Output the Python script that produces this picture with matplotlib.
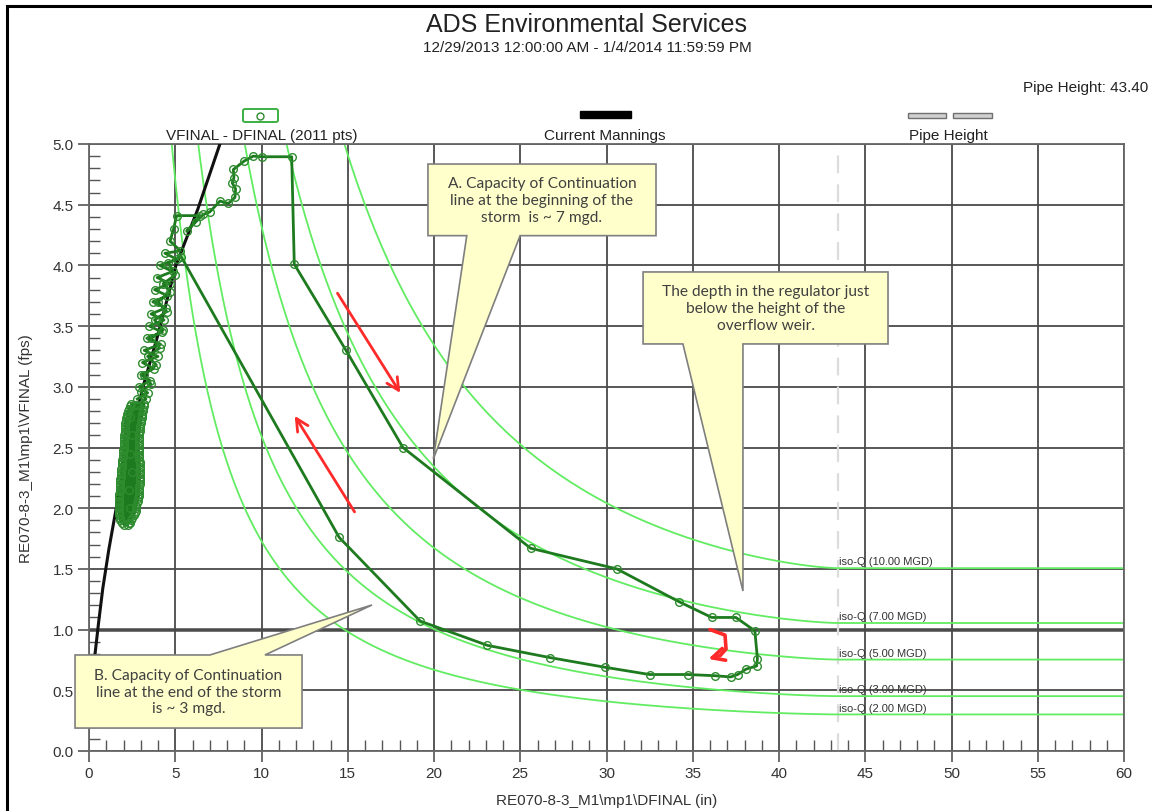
import numpy as np
import matplotlib
matplotlib.use("Agg")
import matplotlib.pyplot as plt
from matplotlib.patches import Polygon, Rectangle, FancyBboxPatch
from matplotlib.ticker import FormatStrFormatter, MultipleLocator

plt.rcParams['font.family'] = ['Liberation Sans', 'DejaVu Sans']

TITLE = "ADS Environmental Services"
SUBTITLE = "12/29/2013 12:00:00 AM - 1/4/2014 11:59:59 PM"
PIPE_HEIGHT = 43.40
X_LABEL = "RE070-8-3_M1\\mp1\\DFINAL (in)"
Y_LABEL = "RE070-8-3_M1\\mp1\\VFINAL (fps)"
SERIES_LABEL = "VFINAL - DFINAL (2011 pts)"
MANNING_LABEL = "Current Mannings"
PIPE_LABEL = "Pipe Height"

# Dry-weather readings (depth in, velocity fps)
dry_depth = [2.05, 2.45, 1.75, 2.70, 1.72, 2.82, 1.75, 2.90, 1.79, 2.94, 1.83,
             2.95, 1.89, 2.93, 1.95, 2.90, 2.00, 2.88, 2.04, 2.92, 2.08, 3.00,
             2.15, 3.10, 2.30, 3.20,
             2.45, 3.15, 2.20, 3.05, 2.10, 2.95, 2.06, 2.90, 2.02, 2.88, 1.98,
             2.92, 1.92, 2.94, 1.86, 2.95, 1.80, 2.92, 1.77, 2.88, 1.74, 2.75,
             1.72, 2.60, 1.80, 2.25,
             1.90, 2.52, 1.73, 2.72, 1.73, 2.85, 1.76, 2.91, 1.80, 2.94, 1.85,
             2.94, 1.90, 2.92, 1.96, 2.89, 2.01, 2.89, 2.05, 2.93, 2.09, 3.02,
             2.18, 3.12, 2.38,
             3.18, 2.25, 3.08, 2.12, 2.97, 2.07, 2.91, 2.03, 2.88, 1.99, 2.91,
             1.93, 2.93, 1.87, 2.95, 1.82, 2.93, 1.78, 2.89, 1.74, 2.78, 1.72,
             2.65, 1.77, 2.35,
             2.30, 2.40, 2.30, 2.50, 2.35, 2.50, 2.40, 2.60]
dry_vel = [1.86, 1.90, 1.94, 1.98, 2.02, 2.06, 2.10, 2.14, 2.18, 2.22, 2.26,
           2.30, 2.34, 2.38, 2.42, 2.46, 2.50, 2.54, 2.58, 2.62, 2.66, 2.70,
           2.74, 2.78, 2.82, 2.86,
           2.86, 2.82, 2.78, 2.74, 2.70, 2.66, 2.62, 2.58, 2.54, 2.50, 2.46,
           2.42, 2.38, 2.34, 2.30, 2.26, 2.22, 2.18, 2.14, 2.10, 2.06, 2.02,
           1.98, 1.94, 1.90, 1.86,
           1.88, 1.92, 1.96, 2.00, 2.04, 2.08, 2.12, 2.16, 2.20, 2.24, 2.28,
           2.32, 2.36, 2.40, 2.44, 2.48, 2.52, 2.56, 2.60, 2.64, 2.68, 2.72,
           2.76, 2.80, 2.84,
           2.84, 2.80, 2.76, 2.72, 2.68, 2.64, 2.60, 2.56, 2.52, 2.48, 2.44,
           2.40, 2.36, 2.32, 2.28, 2.24, 2.20, 2.16, 2.12, 2.08, 2.04, 2.00,
           1.96, 1.92, 1.88,
           1.88, 2.00, 2.15, 2.30, 2.45, 2.60, 2.75, 2.85]

# Storm event trace (rising limb, peak, recession)
storm_depth = [2.80, 3.40, 2.90, 3.55, 3.00, 3.75, 3.10, 4.00, 3.20, 4.15, 3.35,
               4.25, 3.50, 4.35, 3.60, 4.45, 3.70, 4.55, 3.80, 4.70, 3.95, 4.85,
               4.10, 5.10, 4.40, 5.30, 4.70, 4.90, 5.08, 6.43, 5.66, 6.20, 6.63,
               7.00, 7.59, 8.08, 8.46, 8.50, 8.30, 8.40, 8.37, 9.00, 9.52, 10.00,
               11.75, 11.90, 14.90, 18.20, 25.60, 30.60, 34.20, 36.10, 37.50,
               38.60, 38.75, 38.70, 38.10, 37.60, 37.20, 36.30, 34.70, 32.50,
               29.90, 26.70, 23.10, 19.20, 14.50, 5.35, 4.60, 5.00, 4.30, 4.70,
               4.00, 4.50, 3.80, 4.30, 3.60, 4.10, 3.40, 3.90, 3.20, 3.60, 3.00,
               3.30, 2.80]
storm_vel = [2.90, 2.95, 3.00, 3.05, 3.10, 3.15, 3.20, 3.25, 3.30, 3.35, 3.40,
             3.45, 3.50, 3.55, 3.60, 3.65, 3.70, 3.75, 3.80, 3.85, 3.90, 3.95,
             4.00, 4.05, 4.10, 4.12, 4.20, 4.30, 4.41, 4.41, 4.28, 4.36, 4.42,
             4.44, 4.53, 4.51, 4.56, 4.63, 4.68, 4.72, 4.79, 4.86, 4.90, 4.895,
             4.895, 4.01, 3.30, 2.50, 1.67, 1.50, 1.23, 1.10, 1.10,
             0.99, 0.76, 0.70, 0.675, 0.63, 0.61, 0.62, 0.63, 0.63,
             0.69, 0.77, 0.87, 1.07, 1.76, 4.07, 4.02, 3.92, 3.85, 3.78,
             3.70, 3.62, 3.55, 3.47, 3.40, 3.32, 3.25, 3.18, 3.10, 3.02, 2.96,
             2.90, 2.85]

# Manning rating curve
manning_depth = [0.30, 0.35, 0.55, 0.80, 1.15, 1.565, 2.28, 3.15, 4.00, 5.04,
                 6.30, 7.59]
manning_vel = [0.74, 0.80, 1.05, 1.34, 1.66, 1.99, 2.50, 3.01, 3.43, 4.00,
               4.46, 5.00]

# Constant-flow lines
iso_q_mgd = [10.0, 7.0, 5.0, 3.0, 2.0]

W, H = 1152, 812
fig = plt.figure(figsize=(W / 100, H / 100), dpi=100)


def fx(x):
    return x / W


def fy(y):
    return 1 - y / H


ax = fig.add_axes([fx(89), fy(752), fx(1124) - fx(89), fy(145) - fy(752)])
ax.set_xlim(0, 60)
ax.set_ylim(0, 5)

grid_c = '#4a4a4a'
ax.set_xticks(np.arange(0, 61, 5))
ax.set_yticks(np.arange(0, 5.01, 0.5))
ax.xaxis.set_minor_locator(MultipleLocator(1))
ax.yaxis.set_minor_locator(MultipleLocator(0.1))
ax.yaxis.set_major_formatter(FormatStrFormatter('%.1f'))
ax.grid(which='major', color=grid_c, lw=1.3, zorder=0)
ax.set_axisbelow(True)
ax.tick_params(which='major', direction='out', length=8, width=1.2,
               color='#555555', labelsize=11, labelcolor='#333333', pad=3)
ax.tick_params(which='minor', direction='in', length=8, width=1.0,
               color='#555555')
for s in ax.spines.values():
    s.set_color('#666666')
    s.set_linewidth(1.3)
ax.axhline(1.0, color='#555555', lw=2.6, zorder=0.5)
ax.axvline(PIPE_HEIGHT, color='#dcdcdc', lw=1.6, ls=(0, (8, 5)), zorder=0.6)

ax.set_xlabel(X_LABEL, fontsize=11, color='#333333', labelpad=9)
ax.set_ylabel(Y_LABEL, fontsize=11, color='#333333', labelpad=14)

# iso-Q curves from circular-section flow area
D = PIPE_HEIGHT
depth = np.linspace(0.3, 60, 800)
dd = np.minimum(depth, D)
theta = 2 * np.arccos(1 - 2 * dd / D)
area_ft2 = (D ** 2 / 8) * (theta - np.sin(theta)) / 144.0
full_area = np.pi * D ** 2 / 4 / 144.0
for q in iso_q_mgd:
    cfs = q * 1.547228
    ax.plot(depth, cfs / area_ft2, color='#62ec62', lw=1.3, zorder=1)
    ax.text(PIPE_HEIGHT + 0.05, cfs / full_area + 0.015,
            f"iso-Q ({q:.2f} MGD)", fontsize=8, color='#333333',
            va='bottom', ha='left', zorder=2)

ax.plot(manning_depth, manning_vel, color='#111111', lw=2.2, zorder=3,
        solid_joinstyle='round')

mk = dict(marker='o', ms=5.5, mfc='none', mec='#2e8b2e', mew=1.0)
ax.plot(dry_depth, dry_vel, color='#1e7a1e', lw=2.0, zorder=4, **mk)
ax.plot(storm_depth, storm_vel, color='#1e7a1e', lw=2.0, zorder=4, **mk)

# Direction arrows
red = '#ff2a2a'
arr = dict(arrowstyle='->', color=red, lw=2.0, mutation_scale=22)
ax.annotate('', xy=(18.13, 2.93), xytext=(14.32, 3.79), arrowprops=arr, zorder=5)
ax.annotate('', xy=(11.84, 2.78), xytext=(15.48, 1.95), arrowprops=arr, zorder=5)
ax.plot([36.0, 36.87, 36.93, 36.58], [1.0, 0.955, 0.84, 0.785], color=red,
        lw=2.6, solid_capstyle='round', solid_joinstyle='round', zorder=5)
ax.annotate('', xy=(35.75, 0.752), xytext=(36.62, 0.788),
            arrowprops=dict(arrowstyle='->', color=red, lw=2.6,
                            mutation_scale=22), zorder=5)


# Callout boxes
def callout(x0, x1, y0, y1, base_a, base_b, tip, on_top, text):
    if on_top:
        pts = [(x0, y0), (x1, y0), (x1, y1), (base_b, y1), tip, (base_a, y1),
               (x0, y1)]
    else:
        pts = [(x0, y1), (x1, y1), (x1, y0), (base_b, y0), tip, (base_a, y0),
               (x0, y0)]
    poly = Polygon(pts, closed=True, facecolor='#ffffcc', edgecolor='#7f7f7f',
                   lw=1.2, zorder=6, clip_on=False)
    ax.add_patch(poly)
    ax.text((x0 + x1) / 2, (y0 + y1) / 2, text, ha='center', va='center',
            fontsize=11.2, family=['Lato', 'DejaVu Sans'], color='#404040',
            linespacing=1.25, zorder=7, clip_on=False)


callout(19.65, 32.87, 4.245, 4.835, 21.9, 24.99, (19.96, 2.405), False,
        "A. Capacity of Continuation\nline at the beginning of the\nstorm  is ~ 7 mgd.")
callout(32.12, 46.32, 3.353, 3.946, 34.43, 37.91, (37.91, 1.318), False,
        "The depth in the regulator just\nbelow the height of the\noverflow weir.")
callout(-0.81, 12.35, 0.189, 0.791, 7.01, 10.2, (16.41, 1.203), True,
        "B. Capacity of Continuation\nline at the end of the storm\nis ~ 3 mgd.")

# Header texts
fig.text(fx(587), fy(25), TITLE, ha='center', va='center', fontsize=18,
         color='#222222')
fig.text(fx(587), fy(48), SUBTITLE, ha='center', va='center', fontsize=11,
         color='#222222')
fig.text(fx(1148), fy(88), f"Pipe Height: {PIPE_HEIGHT:.2f}", ha='right',
         va='center', fontsize=11, color='#222222')

# Legend row
fig.text(fx(262), fy(136), SERIES_LABEL, ha='center', va='center',
         fontsize=11, color='#222222')
fig.text(fx(605), fy(136), MANNING_LABEL, ha='center', va='center',
         fontsize=11, color='#222222')
fig.text(fx(948), fy(136), PIPE_LABEL, ha='center', va='center',
         fontsize=11, color='#222222')
fig.patches.append(FancyBboxPatch((fx(243), fy(123)), fx(278) - fx(243),
                                  fy(110) - fy(123),
                                  boxstyle='round,pad=0,rounding_size=0.002',
                                  transform=fig.transFigure, facecolor='white',
                                  edgecolor='#3cb043', lw=1.4))
fig.add_artist(plt.Line2D([fx(260)], [fy(116.5)], marker='o', ms=5, mfc='none',
                          mec='#2e8b2e', mew=1.0, transform=fig.transFigure))
fig.patches.append(Rectangle((fx(580), fy(119)), fx(631) - fx(580),
                             fy(112) - fy(119), transform=fig.transFigure,
                             facecolor='black', edgecolor='black'))
for a, b in [(908, 946), (953, 992)]:
    fig.patches.append(Rectangle((fx(a), fy(119)), fx(b) - fx(a),
                                 fy(114) - fy(119), transform=fig.transFigure,
                                 facecolor='#d0d0d0', edgecolor='#707070',
                                 lw=1.0))

# Page frame
fig.patches.append(Rectangle((fx(7), fy(830)), fx(1170) - fx(7),
                             fy(7) - fy(830), transform=fig.transFigure,
                             facecolor='none', edgecolor='black', lw=2.2))

fig.savefig('out.png', dpi=100)
